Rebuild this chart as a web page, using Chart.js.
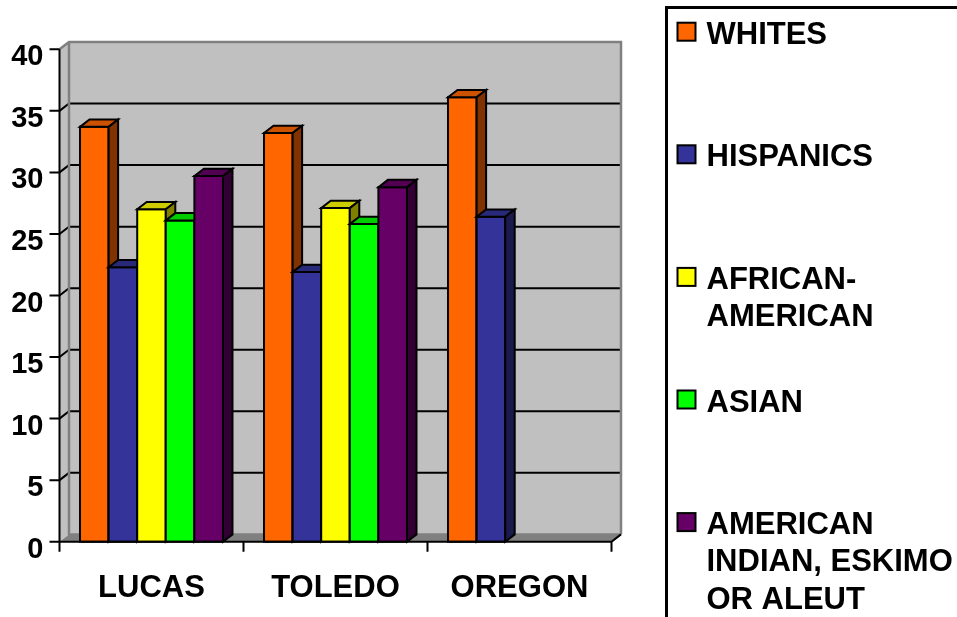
<!DOCTYPE html>
<html>
<head>
<meta charset="utf-8">
<script src="https://cdn.jsdelivr.net/npm/chart.js@4.4.0/dist/chart.umd.min.js"></script>
<style>
  html, body { margin: 0; padding: 0; background: #fff; }
  canvas { display: block; }
</style>
</head>
<body>
<canvas id="chart" width="957" height="617"></canvas>
<script>
const categories = ['LUCAS', 'TOLEDO', 'OREGON'];
const seriesNames = ['WHITES', 'HISPANICS', 'AFRICAN-AMERICAN', 'ASIAN', 'AMERICAN INDIAN, ESKIMO OR ALEUT'];
const whites = [33.7, 33.2, 36.1];
const hispanics = [22.3, 21.9, 26.4];
const africanAmerican = [27.0, 27.1, null];
const asian = [26.1, 25.8, null];
const americanIndian = [29.7, 28.8, null];
const yMin = 0, yMax = 40, yStep = 5;
const legendText = [
    ['WHITES'],
    ['HISPANICS'],
    ['AFRICAN-', 'AMERICAN'],
    ['ASIAN'],
    ['AMERICAN', 'INDIAN, ESKIMO', 'OR ALEUT'],
];

const colors = ['#ff6600', '#333399', '#ffff00', '#00ff00', '#660066'];
const seriesData = [whites, hispanics, africanAmerican, asian, americanIndian];

// depth of the fake 3d effect
const DX = 9.5, DY = 7.3;

function shade(hex, f) {
    let n = parseInt(hex.slice(1), 16);
    let r = Math.round(((n >> 16) & 255) * f);
    let g = Math.round(((n >> 8) & 255) * f);
    let b = Math.round((n & 255) * f);
    return 'rgb(' + r + ',' + g + ',' + b + ')';
}

function poly(ctx, pts, fill, stroke, lw) {
    ctx.beginPath();
    ctx.moveTo(pts[0][0], pts[0][1]);
    for (let i = 1; i < pts.length; i++) ctx.lineTo(pts[i][0], pts[i][1]);
    ctx.closePath();
    if (fill) { ctx.fillStyle = fill; ctx.fill(); }
    if (stroke) { ctx.strokeStyle = stroke; ctx.lineWidth = lw || 2; ctx.lineJoin = 'miter'; ctx.stroke(); }
}

const wallsPlugin = {
    id: 'walls',
    beforeDatasetsDraw(chart) {
        let ctx = chart.ctx;
        let {left, right, top, bottom} = chart.chartArea;
        let yScale = chart.scales.y;
        ctx.save();
        // back wall + side wall
        ctx.fillStyle = '#c0c0c0';
        ctx.fillRect(left + DX, top - DY, right - left, bottom - top);
        poly(ctx, [[left, top], [left + DX, top - DY], [left + DX, bottom - DY], [left, bottom]], '#c0c0c0');
        // floor
        poly(ctx, [[left, bottom], [left + DX, bottom - DY], [right + DX, bottom - DY], [right, bottom]], '#808080');
        // gridlines
        ctx.strokeStyle = '#000';
        ctx.lineWidth = 2;
        yScale.ticks.forEach(t => {
            if (t.value === yMin || t.value === yMax) return;
            let y = yScale.getPixelForValue(t.value);
            ctx.beginPath();
            ctx.moveTo(left, y);
            ctx.lineTo(left + DX, y - DY);
            ctx.lineTo(right + DX, y - DY);
            ctx.stroke();
        });
        // wall edges
        ctx.strokeStyle = '#808080';
        ctx.lineWidth = 2.5;
        ctx.beginPath();
        ctx.moveTo(left, top);
        ctx.lineTo(left + DX, top - DY);
        ctx.lineTo(right + DX, top - DY);
        ctx.lineTo(right + DX, bottom - DY);
        ctx.moveTo(left + DX, top - DY);
        ctx.lineTo(left + DX, bottom - DY);
        ctx.lineTo(right + DX, bottom - DY);
        ctx.stroke();
        ctx.restore();
    },
    afterDatasetsDraw(chart) {
        let ctx = chart.ctx;
        let {left, right, top, bottom} = chart.chartArea;
        let yScale = chart.scales.y;
        ctx.save();
        // bars, category by category, left to right
        for (let i = 0; i < categories.length; i++) {
            for (let d = 0; d < seriesData.length; d++) {
                if (seriesData[d][i] == null) continue;
                let el = chart.getDatasetMeta(d).data[i];
                let p = el.getProps(['x', 'y', 'base', 'width'], true);
                let x0 = p.x - p.width / 2, x1 = p.x + p.width / 2;
                poly(ctx, [[x0, p.y], [x1, p.y], [x1, p.base], [x0, p.base]], colors[d], '#000', 2);
                poly(ctx, [[x0, p.y], [x0 + DX, p.y - DY], [x1 + DX, p.y - DY], [x1, p.y]], shade(colors[d], 0.8), '#000', 2);
                poly(ctx, [[x1, p.y], [x1 + DX, p.y - DY], [x1 + DX, p.base - DY], [x1, p.base]], shade(colors[d], 0.5), '#000', 2);
            }
        }
        // axes
        ctx.strokeStyle = '#000';
        ctx.lineWidth = 2;
        ctx.beginPath();
        ctx.moveTo(left, top);
        ctx.lineTo(left, bottom);
        yScale.ticks.forEach(t => {
            let y = yScale.getPixelForValue(t.value);
            ctx.moveTo(left - 10, y);
            ctx.lineTo(left, y);
        });
        ctx.moveTo(left, bottom);
        ctx.lineTo(right, bottom);
        ctx.lineTo(right + DX, bottom - DY);
        let w = (right - left) / categories.length;
        for (let k = 0; k <= categories.length; k++) {
            ctx.moveTo(left + k * w, bottom);
            ctx.lineTo(left + k * w, bottom + 10);
        }
        ctx.stroke();
        ctx.restore();
    },
    afterDraw(chart) {
        let ctx = chart.ctx;
        ctx.save();
        ctx.strokeStyle = '#000';
        ctx.lineWidth = 3;
        ctx.strokeRect(666.5, 7.5, 400, 700);
        ctx.font = 'bold 31px "Liberation Sans", Arial, sans-serif';
        ctx.textBaseline = 'alphabetic';
        ctx.textAlign = 'left';
        legendText.forEach((lines, i) => {
            let capTop = 21.7 + i * 122.6;
            ctx.fillStyle = colors[i];
            ctx.fillRect(677.5, capTop + 1, 18, 18);
            ctx.strokeStyle = '#000';
            ctx.lineWidth = 2;
            ctx.strokeRect(677.5, capTop + 1, 18, 18);
            ctx.fillStyle = '#000';
            lines.forEach((ln, j) => {
                ctx.fillText(ln, 706.5, capTop + 22 + j * 37.3);
            });
        });
        ctx.restore();
    }
};

let ctx = document.getElementById('chart');
let chart = new Chart(ctx, {
    type: 'bar',
    data: {
        labels: categories,
        datasets: seriesData.map((vals, i) => ({
            label: seriesNames[i],
            data: vals,
            backgroundColor: 'rgba(0,0,0,0)',
            borderWidth: 0,
            categoryPercentage: 0.777,
            barPercentage: 1.0,
        })),
    },
    options: {
        responsive: false,
        animation: false,
        layout: {
            padding: { left: 0, top: 49.3, right: 345.5, bottom: 0 },
        },
        scales: {
            x: {
                grid: { display: false },
                border: { display: false },
                ticks: {
                    color: '#000',
                    padding: 20,
                    font: { family: '"Liberation Sans", Arial, sans-serif', size: 31, weight: 'bold' },
                },
                afterFit(scale) { scale.height = 75.3; },
            },
            y: {
                min: yMin,
                max: yMax,
                grid: { display: false },
                border: { display: false },
                ticks: {
                    stepSize: yStep,
                    color: '#000',
                    padding: 8,
                    labelOffset: 8,
                    font: { family: '"Liberation Sans", Arial, sans-serif', size: 29, weight: 'bold' },
                },
                afterFit(scale) { scale.width = 59.5; },
            },
        },
        plugins: {
            legend: { display: false },
            tooltip: { enabled: false },
        },
    },
    plugins: [wallsPlugin],
});
</script>
</body>
</html>
